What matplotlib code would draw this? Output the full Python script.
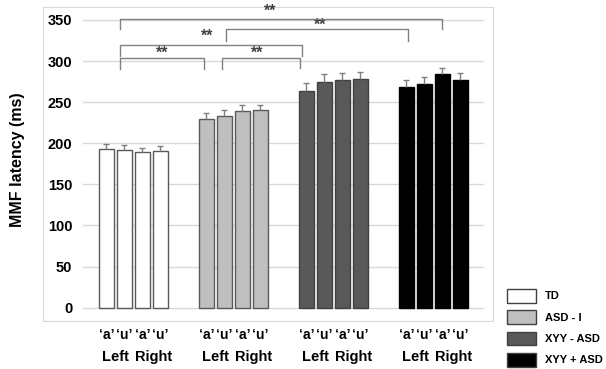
import matplotlib
matplotlib.use("Agg")
import matplotlib.pyplot as plt
from matplotlib.patches import Patch
import numpy as np

plt.rcParams["font.family"] = ["Liberation Sans", "DejaVu Sans"]
plt.rcParams["font.weight"] = "bold"

groups = ["TD", "ASD - I", "XYY - ASD", "XYY + ASD"]
vowels = ["\u2018a\u2019", "\u2018u\u2019", "\u2018a\u2019", "\u2018u\u2019"]
hemis = ["Left", "Right"]

td = [193, 192, 189, 191]
asd_i = [230, 233, 239, 240]
xyy_minus = [264, 275, 277, 278]
xyy_plus = [268, 272, 284, 277]
td_err = [6, 6, 5, 6]
asd_i_err = [7, 7, 7, 7]
xyy_minus_err = [9, 9, 9, 9]
xyy_plus_err = [9, 9, 8, 8]

values = [td, asd_i, xyy_minus, xyy_plus]
errors = [td_err, asd_i_err, xyy_minus_err, xyy_plus_err]
faces = ["white", "#bfbfbf", "#595959", "black"]
edges = ["#595959", "#595959", "#404040", "#000000"]

# significance brackets: (x_left, x_right, leg_left, leg_right, top, star_x, star_y)
brackets = [
    (0.74, 5.42, 290, 290, 304, 3.1, 309),
    (6.45, 10.76, 290, 292, 304, 8.36, 309),
    (0.74, 10.89, 306, 306, 320, 5.6, 330),
    (6.62, 16.76, 324, 324, 339, 11.9, 343),
    (0.74, 18.65, 339, 339, 351, 9.1, 360),
]

group_step = 100 / 18.0
fig = plt.figure(figsize=(6.06, 3.69), dpi=100)
ax = fig.add_axes([43 / 606, 1 - 321 / 369, 450 / 606, 314 / 369])
ax.set_xlim(-3.52, 21.48)
ax.set_ylim(-16.2, 365.8)

for t in range(0, 351, 50):
    ax.axhline(t, xmin=(83 - 43) / 450, xmax=(483 - 43) / 450, color="#d9d9d9", lw=1, zorder=0)

xticks = []
for g in range(4):
    xs = np.arange(4) + g * group_step
    xticks += list(xs)
    ax.bar(xs, values[g], width=0.82, color=faces[g], edgecolor=edges[g], lw=1, zorder=2,
           label=groups[g])
    eb = ax.errorbar(xs, values[g], yerr=[np.zeros(4), errors[g]], fmt="none",
                     ecolor="#7f7f7f", elinewidth=1, capsize=2, capthick=1, zorder=3)
    eb[1][0].set_visible(False)
    for h in range(2):
        ax.annotate(hemis[h], xy=(xs[2 * h] + 0.5 + 0.15 * h, 0), xycoords=("data", "axes fraction"),
                    xytext=(0, -26), textcoords="offset points", ha="center", va="center",
                    fontsize=10.5, fontweight="bold")

ax.set_xticks(xticks)
ax.set_xticklabels(vowels * 4, fontsize=10, fontweight="bold")
ax.tick_params(axis="x", length=0, pad=5)
ax.set_yticks(range(0, 351, 50))
ax.set_yticklabels([str(t) for t in range(0, 351, 50)], fontsize=10.5, fontweight="bold")
ax.tick_params(axis="y", length=0, pad=-21)
for s in ax.spines.values():
    s.set_color("#d9d9d9")

for xl, xr, ll, lr, top, sx, sy in brackets:
    ax.plot([xl, xl, xr, xr], [ll, top, top, lr], color="#808080", lw=1, zorder=4)
    ax.text(sx, sy, "**", ha="center", va="center", fontsize=11.5, fontweight="bold", color="#404040")

fig.text(18 / 606, 1 - 160 / 369, "MMF latency (ms)", rotation=90, ha="center", va="center",
         fontsize=11.5, fontweight="bold")

handles = [Patch(facecolor=faces[g], edgecolor="#404040", lw=1) for g in range(4)]
fig.legend(handles, groups, loc="upper left", bbox_to_anchor=(507 / 606, 1 - 289 / 369),
           frameon=False, fontsize=8, handlelength=2.6, handleheight=1.5, labelspacing=0.7,
           handletextpad=0.8, borderaxespad=0, borderpad=0)

fig.savefig("out.png", dpi=100)
